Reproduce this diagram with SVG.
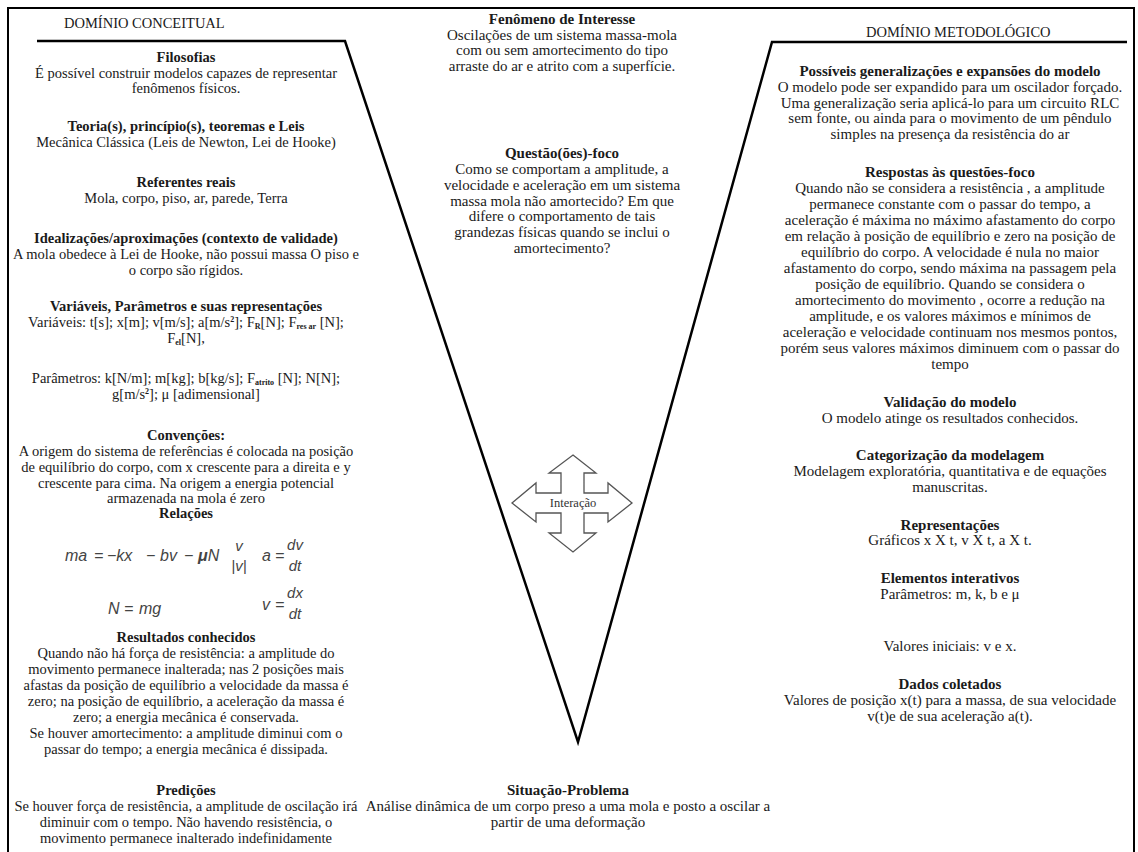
<svg xmlns="http://www.w3.org/2000/svg" width="1138" height="852" viewBox="0 0 1138 852">
<style>
text{font-family:"Liberation Serif","Times New Roman",serif;font-size:15px;fill:#1a1a1a;text-anchor:middle}
.l{font-size:14.5px}
.b{font-weight:bold}
.dom{font-size:14.5px;text-anchor:start}
.f{font-family:"Liberation Sans",Arial,sans-serif;font-style:italic;font-size:16px;fill:#444;text-anchor:start}
.fc{font-family:"Liberation Sans",Arial,sans-serif;font-style:italic;font-size:15px;fill:#444;text-anchor:middle}
.sub{font-size:8px;font-weight:bold}
.line{fill:none;stroke:#000;stroke-width:2.5;stroke-linejoin:miter}
.frame{fill:none;stroke:#000;stroke-width:2}
.arrow{fill:#fff;stroke:#555;stroke-width:1.3}
.ia{font-size:12.5px;fill:#333}
</style>
<rect width="1138" height="852" fill="#fff"/>
<path class="frame" d="M8,860 V8 H1134 V860"/>
<g id="connectors">
<path class="line" d="M37,41 H345 L578,742 L772,42 H1127"/>
</g>
<g id="interacao">
<polygon class="arrow" points="573,455 596,473 584,473 584,493 608,493 608,483 632,503 608,522 608,513 584,513 584,533 596,533 573,552 549,533 561,533 561,513 536,513 536,522 512,503 536,483 536,493 561,493 561,473 549,473"/>
<text class="ia" x="573" y="507">Interação</text>
</g>
<g id="dominio-conceitual"><text class="dom" x="64" y="28">DOMÍNIO CONCEITUAL</text></g>
<g id="dominio-metodologico"><text class="dom" x="866" y="37">DOMÍNIO METODOLÓGICO</text></g>
<g id="filosofias">
<text class="l b" x="186" y="62">Filosofias</text>
<text class="l" x="186" y="78">É possível construir modelos capazes de representar</text>
<text class="l" x="186" y="93">fenômenos físicos.</text>
</g>
<g id="teorias">
<text class="l b" x="186" y="131">Teoria(s), princípio(s), teoremas e Leis</text>
<text class="l" x="186" y="147">Mecânica Clássica (Leis de Newton, Lei de Hooke)</text>
</g>
<g id="referentes">
<text class="l b" x="186" y="187">Referentes reais</text>
<text class="l" x="186" y="203">Mola, corpo, piso, ar, parede, Terra</text>
</g>
<g id="idealizacoes">
<text class="l b" x="186" y="243">Idealizações/aproximações (contexto de validade)</text>
<text class="l" x="186" y="259">A mola obedece à Lei de Hooke, não possui massa O piso e</text>
<text class="l" x="186" y="275">o corpo são rígidos.</text>
</g>
<g id="variaveis">
<text class="l b" x="186" y="311">Variáveis, Parâmetros e suas representações</text>
<text class="l" x="186" y="327">Variáveis: t[s]; x[m]; v[m/s]; a[m/s<tspan class="sub" dy="-5">2</tspan><tspan dy="5">]; F</tspan><tspan class="sub" dy="2">R</tspan><tspan dy="-2">[N]; F</tspan><tspan class="sub" dy="2">res ar</tspan><tspan dy="-2"> [N];</tspan></text>
<text class="l" x="186" y="343">F<tspan class="sub" dy="2">el</tspan><tspan dy="-2">[N],</tspan></text>
<text class="l" x="186" y="383">Parâmetros: k[N/m]; m[kg]; b[kg/s]; F<tspan class="sub" dy="2">atrito</tspan><tspan dy="-2"> [N]; N[N];</tspan></text>
<text class="l" x="186" y="399">g[m/s<tspan class="sub" dy="-5">2</tspan><tspan dy="5">]; μ [adimensional]</tspan></text>
</g>
<g id="convencoes">
<text class="l b" x="186" y="440">Convenções:</text>
<text class="l" x="186" y="456">A origem do sistema de referências é colocada na posição</text>
<text class="l" x="186" y="472">de equilíbrio do corpo, com x crescente para a direita e y</text>
<text class="l" x="186" y="488">crescente para cima. Na origem a energia potencial</text>
<text class="l" x="186" y="503">armazenada na mola é zero</text>
</g>
<g id="relacoes">
<text class="l b" x="186" y="518">Relações</text>
<text class="f" x="65" y="561">ma</text>
<text class="f" x="94" y="561">=</text>
<text class="f" x="107" y="561">−kx</text>
<text class="f" x="146" y="561">−</text>
<text class="f" x="160" y="561">bv</text>
<text class="f" x="184" y="561">−</text>
<text class="f" x="198" y="561"><tspan font-weight="bold">μ</tspan>N</text>
<text class="fc" x="239" y="551">v</text>
<text class="fc" x="239" y="571">|v|</text>
<text class="f" x="262" y="561">a</text>
<text class="f" x="275" y="561">=</text>
<text class="fc" x="295" y="550">dv</text>
<text class="fc" x="295" y="571">dt</text>
<text class="f" x="108" y="614">N</text>
<text class="f" x="124" y="614">=</text>
<text class="f" x="139" y="614">mg</text>
<text class="f" x="262" y="610">v</text>
<text class="f" x="275" y="610">=</text>
<text class="fc" x="295" y="598">dx</text>
<text class="fc" x="295" y="619">dt</text>
</g>
<g id="resultados">
<text class="l b" x="186" y="642">Resultados conhecidos</text>
<text class="l" x="186" y="658">Quando não há força de resistência: a amplitude do</text>
<text class="l" x="186" y="674">movimento permanece inalterada; nas 2 posições mais</text>
<text class="l" x="186" y="690">afastas da posição de equilíbrio a velocidade da massa é</text>
<text class="l" x="186" y="706">zero; na posição de equilíbrio, a aceleração da massa é</text>
<text class="l" x="186" y="722">zero; a energia mecânica é conservada.</text>
<text class="l" x="186" y="738">Se houver amortecimento: a amplitude diminui com o</text>
<text class="l" x="186" y="754">passar do tempo;  a energia mecânica é dissipada.</text>
</g>
<g id="predicoes">
<text class="l b" x="186" y="795">Predições</text>
<text class="l" x="186" y="811">Se houver força de resistência, a amplitude de oscilação irá</text>
<text class="l" x="186" y="827">diminuir com o tempo. Não havendo resistência, o</text>
<text class="l" x="186" y="843">movimento permanece inalterado indefinidamente</text>
</g>
<g id="fenomeno">
<text class="b" x="562" y="24">Fenômeno de Interesse</text>
<text x="562" y="40">Oscilações de um sistema massa-mola</text>
<text x="562" y="55">com ou sem amortecimento do tipo</text>
<text x="562" y="71">arraste do ar e atrito com a superfície.</text>
</g>
<g id="questoes">
<text class="b" x="562" y="158">Questão(ões)-foco</text>
<text x="562" y="174">Como se comportam a amplitude, a</text>
<text x="562" y="190">velocidade e aceleração em um sistema</text>
<text x="562" y="206">massa mola não amortecido? Em que</text>
<text x="562" y="221">difere o comportamento de tais</text>
<text x="562" y="237">grandezas físicas quando se inclui o</text>
<text x="562" y="253">amortecimento?</text>
</g>
<g id="situacao">
<text class="b" x="568" y="795">Situação-Problema</text>
<text x="568" y="811">Análise dinâmica de um corpo preso a uma mola e posto a oscilar a</text>
<text x="568" y="827">partir de uma deformação</text>
</g>
<g id="generalizacoes">
<text class="b" x="950" y="76">Possíveis generalizações e expansões do modelo</text>
<text x="950" y="92">O modelo pode ser expandido para um oscilador forçado.</text>
<text x="950" y="108">Uma generalização seria aplicá-lo para um circuito RLC</text>
<text x="950" y="123">sem fonte, ou ainda para o movimento de um pêndulo</text>
<text x="950" y="139">simples na presença da resistência do ar</text>
</g>
<g id="respostas">
<text class="b" x="950" y="177">Respostas às questões-foco</text>
<text x="950" y="193">Quando não se considera a resistência , a amplitude</text>
<text x="950" y="209">permanece constante com o passar do tempo, a</text>
<text x="950" y="225">aceleração é máxima no máximo afastamento do corpo</text>
<text x="950" y="241">em relação à posição de equilíbrio e zero na posição de</text>
<text x="950" y="257">equilíbrio do corpo. A velocidade é nula no maior</text>
<text x="950" y="273">afastamento do corpo, sendo máxima na passagem pela</text>
<text x="950" y="289">posição de equilíbrio. Quando se considera o</text>
<text x="950" y="305">amortecimento do movimento , ocorre  a redução na</text>
<text x="950" y="321">amplitude, e os valores máximos e mínimos de</text>
<text x="950" y="337">aceleração e velocidade continuam nos mesmos pontos,</text>
<text x="950" y="353">porém seus valores máximos diminuem com o passar do</text>
<text x="950" y="369">tempo</text>
</g>
<g id="validacao">
<text class="b" x="950" y="407">Validação do modelo</text>
<text x="950" y="423">O modelo atinge os resultados conhecidos.</text>
</g>
<g id="categorizacao">
<text class="b" x="950" y="460">Categorização da modelagem</text>
<text x="950" y="476">Modelagem exploratória, quantitativa e de equações</text>
<text x="950" y="492">manuscritas.</text>
</g>
<g id="representacoes">
<text class="b" x="950" y="530">Representações</text>
<text x="950" y="545">Gráficos x X t, v X t, a X t.</text>
</g>
<g id="elementos">
<text class="b" x="950" y="583">Elementos interativos</text>
<text x="950" y="599">Parâmetros: m, k, b e μ</text>
<text x="950" y="651">Valores iniciais: v e x.</text>
</g>
<g id="dados">
<text class="b" x="950" y="689">Dados coletados</text>
<text x="950" y="705">Valores de posição x(t) para a massa, de sua velocidade</text>
<text x="950" y="721">v(t)e de sua aceleração a(t).</text>
</g>
</svg>
